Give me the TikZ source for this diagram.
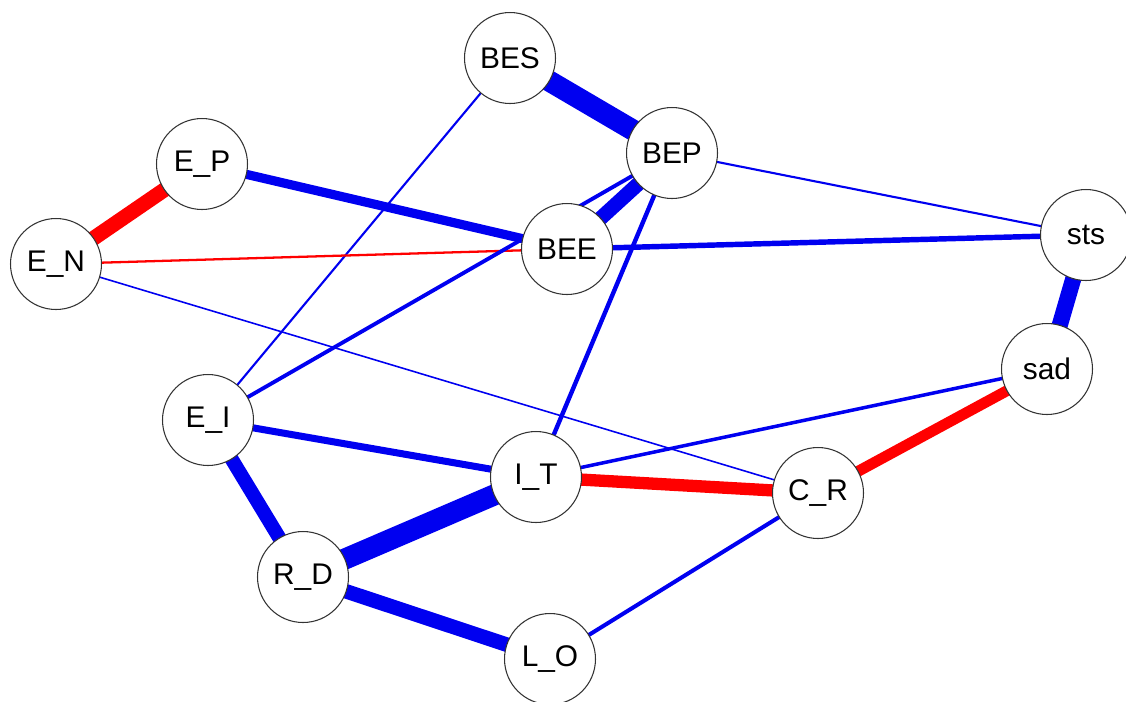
\documentclass[tikz,border=0pt]{standalone}
\usepackage{fontspec}
\setmainfont{Liberation Sans}
\pgfdeclarelayer{edges}
\pgfsetlayers{edges,main}
\begin{document}
\begin{tikzpicture}[x=0.02cm,y=-0.02cm,
  vert/.style={circle,draw=black!80,line width=0.6pt,fill=white,minimum size=1.82cm,inner sep=0pt,font=\fontsize{17}{20}\selectfont},
  posedge/.style={draw={rgb,255:red,0;green,0;blue,240}},
  negedge/.style={draw={rgb,255:red,255;green,0;blue,0}}]
\useasboundingbox (0,0) rectangle (1126,701);
\node[vert] (BES) at (510,58) {BES};
\node[vert] (BEP) at (672,153) {BEP};
\node[vert] (BEE) at (567,249) {BEE};
\node[vert] (EP) at (202,164) {E\_P};
\node[vert] (EN) at (56,264) {E\_N};
\node[vert] (EI) at (208,420) {E\_I};
\node[vert] (IT) at (536,477) {I\_T};
\node[vert] (RD) at (303,577) {R\_D};
\node[vert] (LO) at (550,659) {L\_O};
\node[vert] (sts) at (1086,235) {sts};
\node[vert] (sad) at (1047,369) {sad};
\node[vert] (CR) at (818,493) {C\_R};
\begin{pgfonlayer}{edges}
\path[posedge,line width=12pt] (BES.center) -- (BEP.center);
\path[posedge,line width=1.2pt] (BES.center) -- (EI.center);
\path[negedge,line width=8.5pt] (EP.center) -- (EN.center);
\path[posedge,line width=5.2pt] (EP.center) -- (BEE.center);
\path[negedge,line width=1.3pt] (EN.center) -- (BEE.center);
\path[posedge,line width=0.9pt] (EN.center) -- (CR.center);
\path[posedge,line width=8.3pt] (BEP.center) -- (BEE.center);
\path[posedge,line width=1.2pt] (BEP.center) -- (sts.center);
\path[posedge,line width=2.2pt] (BEP.center) -- (EI.center);
\path[posedge,line width=2.5pt] (BEP.center) -- (IT.center);
\path[posedge,line width=3.1pt] (BEE.center) -- (sts.center);
\path[posedge,line width=9.2pt] (sts.center) -- (sad.center);
\path[negedge,line width=6.2pt] (sad.center) -- (CR.center);
\path[posedge,line width=2pt] (sad.center) -- (IT.center);
\path[posedge,line width=4pt] (EI.center) -- (IT.center);
\path[posedge,line width=8pt] (EI.center) -- (RD.center);
\path[negedge,line width=7pt] (IT.center) -- (CR.center);
\path[posedge,line width=12pt] (IT.center) -- (RD.center);
\path[posedge,line width=8.3pt] (RD.center) -- (LO.center);
\path[posedge,line width=2.3pt] (LO.center) -- (CR.center);
\end{pgfonlayer}
\end{tikzpicture}
\end{document}
